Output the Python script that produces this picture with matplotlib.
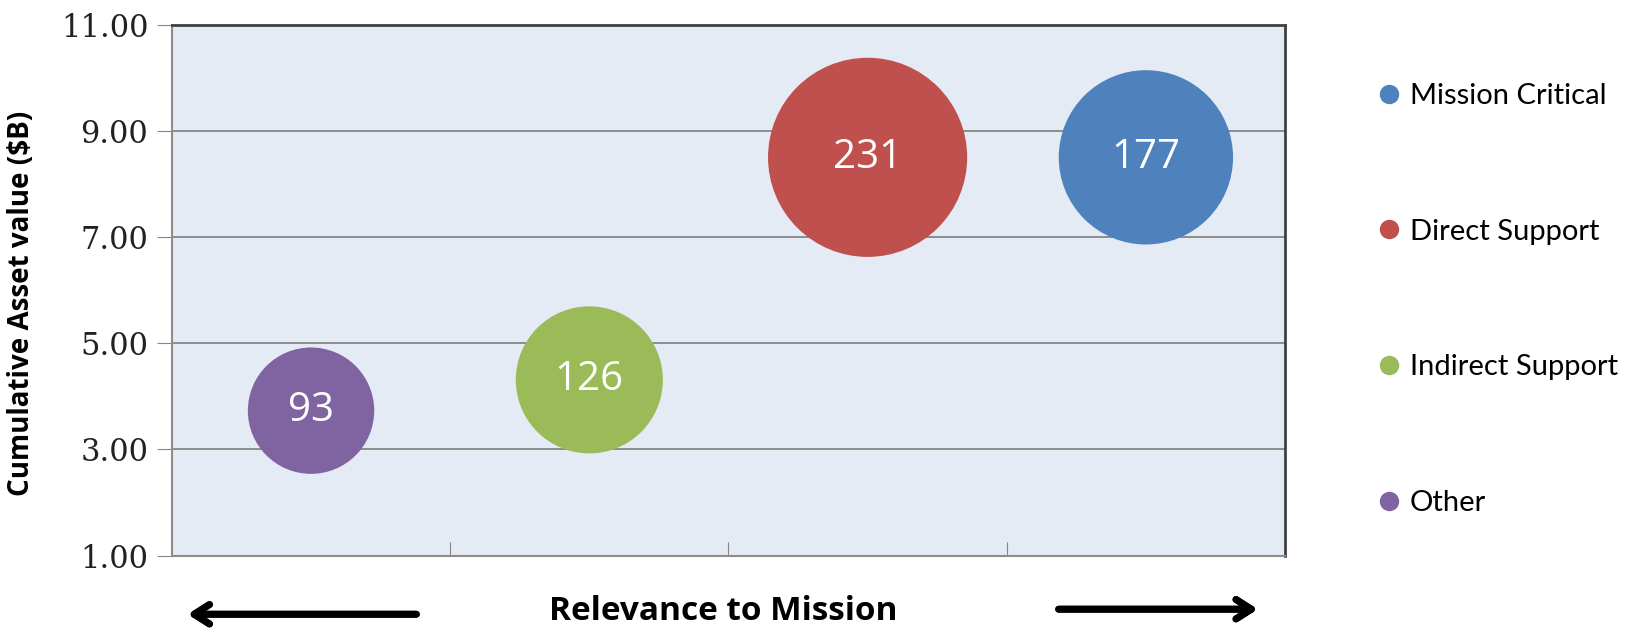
import matplotlib.pyplot as plt
from matplotlib.lines import Line2D

# asset groups, placed left to right by relevance to mission
groups = ['Other', 'Indirect Support', 'Direct Support', 'Mission Critical']
relevance = [0.5, 1.5, 2.5, 3.5]
asset_value = [3.73, 4.31, 8.50, 8.50]
asset_count = [93, 126, 231, 177]
colors = ['#8064A2', '#9BBB59', '#C0504D', '#4F81BD']

legend_order = ['Mission Critical', 'Direct Support', 'Indirect Support', 'Other']
y_ticks = [1, 3, 5, 7, 9, 11]

fig = plt.figure(figsize=(16.37, 6.3), dpi=100)
ax = fig.add_axes([0.105, 0.118, 0.680, 0.843])
ax.set_facecolor('#E4EBF5')

# bubble area proportional to asset count
ax.scatter(relevance, asset_value, s=[89 * c for c in asset_count],
           c=colors, edgecolors='none', zorder=3)
for x, y, c in zip(relevance, asset_value, asset_count):
    ax.text(x, y, str(c), color='white', fontsize=29, family='Open Sans',
            ha='center', va='center', zorder=4)

ax.set_xlim(0, 4)
ax.set_ylim(1, 11)
ax.set_yticks(y_ticks)
ax.set_yticklabels(['%.2f' % t for t in y_ticks], family='DejaVu Serif',
                   fontsize=22, color='#222222')
ax.set_xticks([1, 2, 3])
ax.set_xticklabels([])
ax.tick_params(axis='x', direction='in', length=10, color='#868686')
ax.tick_params(axis='y', direction='out', length=11, color='#868686', pad=6)

for t in y_ticks[1:]:
    ax.axhline(t, color='#868686', lw=1.3, zorder=1)

for side in ['left', 'bottom']:
    ax.spines[side].set_color('#8C8C8C')
    ax.spines[side].set_linewidth(1.5)
for side in ['top', 'right']:
    ax.spines[side].set_color('#404040')
    ax.spines[side].set_linewidth(2)

ax.set_ylabel('Cumulative Asset value ($B)', family='Open Sans',
              fontweight='bold', fontsize=20)
ax.yaxis.set_label_coords(-0.122, 0.475)

# legend in the right margin, spread evenly down the plot height
handles = [Line2D([], [], marker='o', ls='none', markersize=14,
                  markerfacecolor=colors[groups.index(g)], markeredgecolor='none')
           for g in legend_order]
leg = fig.legend(handles, legend_order, loc='upper left',
                 bbox_to_anchor=(0.822, 0.910), frameon=False,
                 prop={'family': 'Lato', 'size': 21},
                 labelspacing=3.76, handletextpad=0.1, handlelength=1.2)

# x-axis caption with direction arrows
fig.text(0.442, 0.030, 'Relevance to Mission', family='Open Sans',
         fontweight='bold', fontsize=24, ha='center', va='center')
arrow = dict(arrowstyle='->, head_length=1.1, head_width=0.7', lw=5, color='black')
fig.add_artist(plt.annotate('', xy=(0.113, 0.025), xytext=(0.256, 0.025),
                            xycoords='figure fraction', arrowprops=arrow))
fig.add_artist(plt.annotate('', xy=(0.770, 0.033), xytext=(0.645, 0.033),
                            xycoords='figure fraction', arrowprops=arrow))

fig.savefig('out.png', dpi=100)
